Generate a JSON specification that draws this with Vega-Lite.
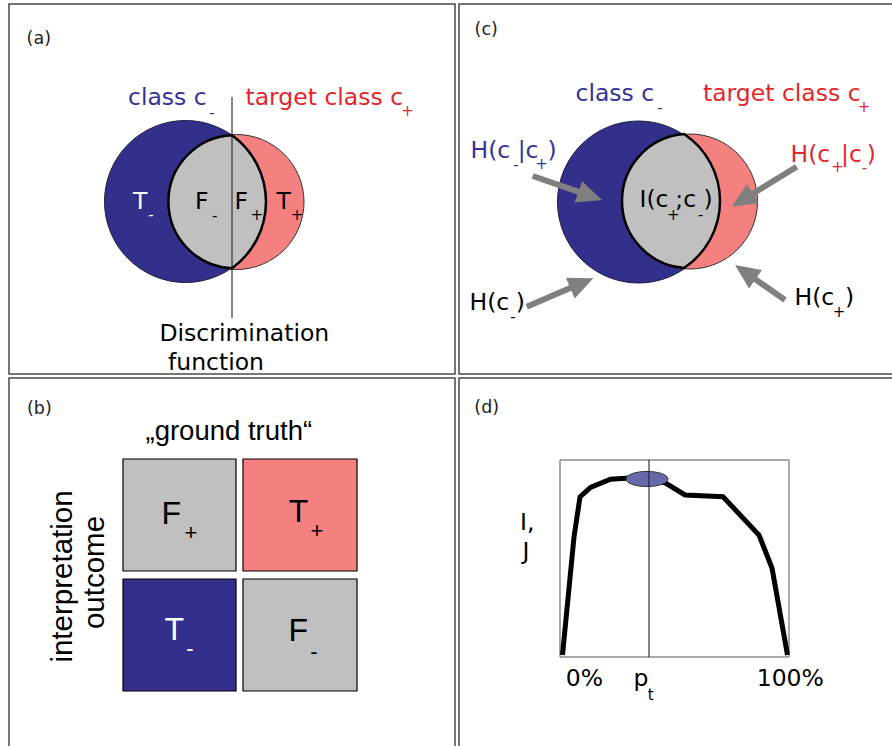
{
  "$schema": "https://vega.github.io/schema/vega-lite/v6.json",
  "width": 892,
  "height": 746,
  "padding": 0,
  "autosize": "none",
  "background": "white",
  "config": {"view": {"stroke": null}},
  "datasets": {
    "borders": [
      {"x": 9, "x2": 455, "y": 4, "y2": 374},
      {"x": 459, "x2": 900, "y": 4, "y2": 374},
      {"x": 9, "x2": 455, "y": 378, "y2": 752},
      {"x": 459, "x2": 900, "y": 378, "y2": 752}
    ],
    "blue": [{"x": 185.5, "y": 201.5}, {"x": 638.5, "y": 202}],
    "red": [{"x": 236.5, "y": 202}, {"x": 690, "y": 201.5}],
    "lensA": [{"x": 232, "y": 201.75}],
    "lensC": [{"x": 684, "y": 201}],
    "rules": [
      {"x": 232, "y": 97, "x2": 232, "y2": 318},
      {"x": 649, "y": 460, "x2": 649, "y2": 657}
    ],
    "box": [{"x": 560, "y": 460, "x2": 789, "y2": 657}],
    "curve": [
      {"i": 1, "x": 562.5, "y": 655},
      {"i": 2, "x": 574, "y": 537},
      {"i": 3, "x": 580, "y": 497},
      {"i": 4, "x": 590.5, "y": 487.5},
      {"i": 5, "x": 610.5, "y": 479.3},
      {"i": 6, "x": 626, "y": 478.3},
      {"i": 7, "x": 646, "y": 477},
      {"i": 8, "x": 666, "y": 483.3},
      {"i": 9, "x": 685, "y": 495},
      {"i": 10, "x": 723, "y": 496.7},
      {"i": 11, "x": 759, "y": 535},
      {"i": 12, "x": 772, "y": 568},
      {"i": 13, "x": 787.5, "y": 655}
    ],
    "ellipse": [{"x": 647, "y": 479}],
    "cells": [
      {"x": 123, "x2": 236, "y": 459, "y2": 571, "c": "gF"},
      {"x": 243, "x2": 357, "y": 459, "y2": 571, "c": "rF"},
      {"x": 123, "x2": 236, "y": 579, "y2": 691, "c": "bF"},
      {"x": 243, "x2": 357, "y": 579, "y2": 691, "c": "gF"}
    ],
    "shafts": [
      {"x": 532.7, "y": 176, "x2": 583.1, "y2": 193.4},
      {"x": 796.7, "y": 166.7, "x2": 748.7, "y2": 196.2},
      {"x": 526.7, "y": 306.7, "x2": 574.9, "y2": 286.1},
      {"x": 785, "y": 300, "x2": 751.4, "y2": 276.5}
    ],
    "heads": [
      {"x": 602, "y": 200, "a": 19.2},
      {"x": 731.7, "y": 206.7, "a": 148.4},
      {"x": 593.3, "y": 278.3, "a": -23.1},
      {"x": 735, "y": 265, "a": -145}
    ],
    "texts": [
      {"k": "lab", "t": "(a)", "x": 26.6, "y": 44.4, "c": "txt"},
      {"k": "lab", "t": "(c)", "x": 474.6, "y": 35, "c": "txt"},
      {"k": "lab", "t": "(b)", "x": 27, "y": 413.7, "c": "txt"},
      {"k": "lab", "t": "(d)", "x": 474.3, "y": 412.7, "c": "txt"},

      {"k": "m", "t": "class c", "x": 128, "y": 105, "c": "neg"},
      {"k": "m", "t": "target class c", "x": 245.5, "y": 105, "c": "pos"},
      {"k": "m", "t": "T", "x": 133, "y": 209, "c": "inv"},
      {"k": "m", "t": "F", "x": 195, "y": 209, "c": "txt"},
      {"k": "m", "t": "F", "x": 234.5, "y": 209, "c": "txt"},
      {"k": "m", "t": "T", "x": 276.5, "y": 209, "c": "txt"},
      {"k": "m", "t": "Discrimination", "x": 159.5, "y": 341, "c": "txt"},
      {"k": "m", "t": "function", "x": 168, "y": 370, "c": "txt"},

      {"k": "m", "t": "class c", "x": 575.5, "y": 101, "c": "neg"},
      {"k": "m", "t": "target class c", "x": 703, "y": 101, "c": "pos"},
      {"k": "m", "t": "H(c", "x": 470.5, "y": 158, "c": "neg"},
      {"k": "m", "t": "|c", "x": 517.7, "y": 158, "c": "neg"},
      {"k": "m", "t": ")", "x": 547.4, "y": 158, "c": "neg"},
      {"k": "m", "t": "H(c", "x": 790.5, "y": 162, "c": "pos"},
      {"k": "m", "t": "|c", "x": 841, "y": 162, "c": "pos"},
      {"k": "m", "t": ")", "x": 866.7, "y": 162, "c": "pos"},
      {"k": "m", "t": "I(c", "x": 639.5, "y": 207, "c": "txt"},
      {"k": "m", "t": ";c", "x": 675.3, "y": 207, "c": "txt"},
      {"k": "m", "t": ")", "x": 703.4, "y": 207, "c": "txt"},
      {"k": "m", "t": "H(c", "x": 469.5, "y": 310, "c": "txt"},
      {"k": "m", "t": ")", "x": 515.7, "y": 310, "c": "txt"},
      {"k": "m", "t": "H(c", "x": 794.5, "y": 305, "c": "txt"},
      {"k": "m", "t": ")", "x": 845, "y": 305, "c": "txt"},

      {"k": "m", "t": "I,", "x": 520, "y": 530, "c": "txt"},
      {"k": "m", "t": "J", "x": 522.5, "y": 559, "c": "txt"},
      {"k": "m", "t": "0%", "x": 565.7, "y": 686, "c": "txt"},
      {"k": "m", "t": "p", "x": 633.5, "y": 686, "c": "txt"},
      {"k": "m", "t": "100%", "x": 756.7, "y": 686, "c": "txt"},

      {"k": "s", "t": "-", "x": 212, "y": 112.7, "c": "neg"},
      {"k": "s", "t": "+", "x": 407.5, "y": 111, "c": "pos"},
      {"k": "s", "t": "-", "x": 151, "y": 215, "c": "inv"},
      {"k": "s", "t": "-", "x": 214.7, "y": 215.7, "c": "txt"},
      {"k": "s", "t": "+", "x": 256.7, "y": 215, "c": "txt"},
      {"k": "s", "t": "+", "x": 297, "y": 215, "c": "txt"},
      {"k": "s", "t": "-", "x": 660, "y": 108, "c": "neg"},
      {"k": "s", "t": "+", "x": 864, "y": 107, "c": "pos"},
      {"k": "s", "t": "-", "x": 516, "y": 165, "c": "neg"},
      {"k": "s", "t": "+", "x": 541.5, "y": 164, "c": "neg"},
      {"k": "s", "t": "+", "x": 837.5, "y": 166.7, "c": "pos"},
      {"k": "s", "t": "-", "x": 864.5, "y": 168.3, "c": "pos"},
      {"k": "s", "t": "+", "x": 673.3, "y": 215, "c": "txt"},
      {"k": "s", "t": "-", "x": 700.8, "y": 215, "c": "txt"},
      {"k": "s", "t": "-", "x": 513, "y": 316.7, "c": "txt"},
      {"k": "s", "t": "+", "x": 839, "y": 311.7, "c": "txt"},
      {"k": "s", "t": "t", "x": 650.7, "y": 695, "c": "txt"},

      {"k": "b", "t": "F", "x": 161.4, "y": 524, "c": "txt"},
      {"k": "b", "t": "T", "x": 288.7, "y": 522, "c": "txt"},
      {"k": "b", "t": "T", "x": 164.4, "y": 640, "c": "inv"},
      {"k": "b", "t": "F", "x": 288.4, "y": 641, "c": "txt"},
      {"k": "bs", "t": "+", "x": 191, "y": 533.3, "c": "txt"},
      {"k": "bs", "t": "+", "x": 317, "y": 530.7, "c": "txt"},
      {"k": "bs", "t": "-", "x": 190, "y": 649.3, "c": "inv"},
      {"k": "bs", "t": "-", "x": 314, "y": 651.7, "c": "txt"},
      {"k": "g", "t": "„ground truth“", "x": 145.5, "y": 440, "c": "txt"},
      {"k": "r", "t": "interpretation", "x": 71.5, "y": 576.5, "c": "txt"},
      {"k": "r", "t": "outcome", "x": 104, "y": 572.5, "c": "txt"}
    ]
  },
  "encoding": {
    "x": {"field": "x", "type": "quantitative", "scale": {"domain": [0, 892], "nice": false, "zero": false}, "axis": null},
    "y": {"field": "y", "type": "quantitative", "scale": {"domain": [0, 746], "nice": false, "zero": false, "reverse": true}, "axis": null}
  },
  "layer": [
    {
      "data": {"name": "borders"},
      "mark": {"type": "rect", "filled": false, "stroke": "#484848", "strokeWidth": 1.5, "clip": true},
      "encoding": {"x2": {"field": "x2"}, "y2": {"field": "y2"}}
    },
    {
      "data": {"name": "blue"},
      "mark": {"type": "point", "shape": "circle", "filled": true, "fill": "#33308c", "stroke": "#1c1c3c", "strokeWidth": 1, "size": 26244, "opacity": 1}
    },
    {
      "data": {"name": "red"},
      "mark": {"type": "point", "shape": "circle", "filled": true, "fill": "#f48080", "stroke": "#333333", "strokeWidth": 1, "size": 18225, "opacity": 1}
    },
    {
      "data": {"name": "lensA"},
      "mark": {"type": "point", "shape": "M 0 -1 A 1.001 1.001 0 0 0 0 1 A 1.234 1.234 0 0 0 0 -1 Z", "filled": true, "fill": "#c0c0c0", "stroke": "#000000", "strokeWidth": 2.5, "size": 17689, "opacity": 1}
    },
    {
      "data": {"name": "lensC"},
      "mark": {"type": "point", "shape": "M 0 -1 A 1.003 1.003 0 0 0 0 1 A 1.199 1.199 0 0 0 0 -1 Z", "filled": true, "fill": "#c0c0c0", "stroke": "#000000", "strokeWidth": 2.5, "size": 17956, "opacity": 1}
    },
    {
      "data": {"name": "cells"},
      "mark": {"type": "rect", "stroke": "#000000", "strokeWidth": 1.2},
      "encoding": {
        "x2": {"field": "x2"}, "y2": {"field": "y2"},
        "color": {"field": "c", "type": "nominal", "legend": null,
          "scale": {"domain": ["neg", "pos", "txt", "inv", "gF", "rF", "bF"], "range": ["#333399", "#e3262a", "#000000", "#ffffff", "#c0c0c0", "#f48080", "#33308c"]}}
      }
    },
    {
      "data": {"name": "box"},
      "mark": {"type": "rect", "filled": false, "stroke": "#555555", "strokeWidth": 1},
      "encoding": {"x2": {"field": "x2"}, "y2": {"field": "y2"}}
    },
    {
      "data": {"name": "curve"},
      "mark": {"type": "line", "color": "#000000", "strokeWidth": 5},
      "encoding": {"order": {"field": "i", "type": "quantitative"}}
    },
    {
      "data": {"name": "ellipse"},
      "mark": {"type": "point", "shape": "M -1 0 A 1 0.36 0 1 0 1 0 A 1 0.36 0 1 0 -1 0 Z", "filled": true, "fill": "#6868ad", "stroke": "#333333", "strokeWidth": 1, "size": 1764, "opacity": 1}
    },
    {
      "data": {"name": "rules"},
      "mark": {"type": "rule", "color": "#222222", "strokeWidth": 1.1},
      "encoding": {"x2": {"field": "x2"}, "y2": {"field": "y2"}}
    },
    {
      "data": {"name": "shafts"},
      "mark": {"type": "rule", "color": "#808080", "strokeWidth": 6},
      "encoding": {"x2": {"field": "x2"}, "y2": {"field": "y2"}}
    },
    {
      "data": {"name": "heads"},
      "mark": {"type": "point", "shape": "M 0 0 L -1 -0.45 L -1 0.45 Z", "filled": true, "fill": "#808080", "strokeWidth": 0, "size": 2500, "opacity": 1},
      "encoding": {"angle": {"field": "a", "type": "quantitative", "scale": null}}
    },
    {
      "data": {"name": "texts"},
      "transform": [{"filter": "datum.k == 'lab'"}],
      "mark": {"type": "text", "font": "DejaVu Sans", "fontSize": 17.5, "align": "left", "baseline": "alphabetic", "color": "#222222"},
      "encoding": {"text": {"field": "t"}}
    },
    {
      "data": {"name": "texts"},
      "transform": [{"filter": "datum.k == 'm'"}],
      "mark": {"type": "text", "font": "DejaVu Sans", "fontSize": 23.5, "align": "left", "baseline": "alphabetic"},
      "encoding": {
        "text": {"field": "t"},
        "color": {"field": "c", "type": "nominal", "legend": null,
          "scale": {"domain": ["neg", "pos", "txt", "inv", "gF", "rF", "bF"], "range": ["#333399", "#e3262a", "#000000", "#ffffff", "#c0c0c0", "#f48080", "#33308c"]}}
      }
    },
    {
      "data": {"name": "texts"},
      "transform": [{"filter": "datum.k == 's'"}],
      "mark": {"type": "text", "font": "DejaVu Sans", "fontSize": 15, "align": "center", "baseline": "middle"},
      "encoding": {
        "text": {"field": "t"},
        "color": {"field": "c", "type": "nominal", "legend": null,
          "scale": {"domain": ["neg", "pos", "txt", "inv", "gF", "rF", "bF"], "range": ["#333399", "#e3262a", "#000000", "#ffffff", "#c0c0c0", "#f48080", "#33308c"]}}
      }
    },
    {
      "data": {"name": "texts"},
      "transform": [{"filter": "datum.k == 'b'"}],
      "mark": {"type": "text", "font": "Liberation Sans", "fontSize": 32, "align": "left", "baseline": "alphabetic"},
      "encoding": {
        "text": {"field": "t"},
        "color": {"field": "c", "type": "nominal", "legend": null,
          "scale": {"domain": ["neg", "pos", "txt", "inv", "gF", "rF", "bF"], "range": ["#333399", "#e3262a", "#000000", "#ffffff", "#c0c0c0", "#f48080", "#33308c"]}}
      }
    },
    {
      "data": {"name": "texts"},
      "transform": [{"filter": "datum.k == 'bs'"}],
      "mark": {"type": "text", "font": "Liberation Sans", "fontSize": 22, "align": "center", "baseline": "middle"},
      "encoding": {
        "text": {"field": "t"},
        "color": {"field": "c", "type": "nominal", "legend": null,
          "scale": {"domain": ["neg", "pos", "txt", "inv", "gF", "rF", "bF"], "range": ["#333399", "#e3262a", "#000000", "#ffffff", "#c0c0c0", "#f48080", "#33308c"]}}
      }
    },
    {
      "data": {"name": "texts"},
      "transform": [{"filter": "datum.k == 'g'"}],
      "mark": {"type": "text", "font": "Liberation Sans", "fontSize": 27.5, "align": "left", "baseline": "alphabetic", "color": "#000000"},
      "encoding": {"text": {"field": "t"}}
    },
    {
      "data": {"name": "texts"},
      "transform": [{"filter": "datum.k == 'r'"}],
      "mark": {"type": "text", "font": "Liberation Sans", "fontSize": 29.5, "align": "center", "baseline": "alphabetic", "angle": 270, "color": "#000000"},
      "encoding": {"text": {"field": "t"}}
    }
  ]
}
